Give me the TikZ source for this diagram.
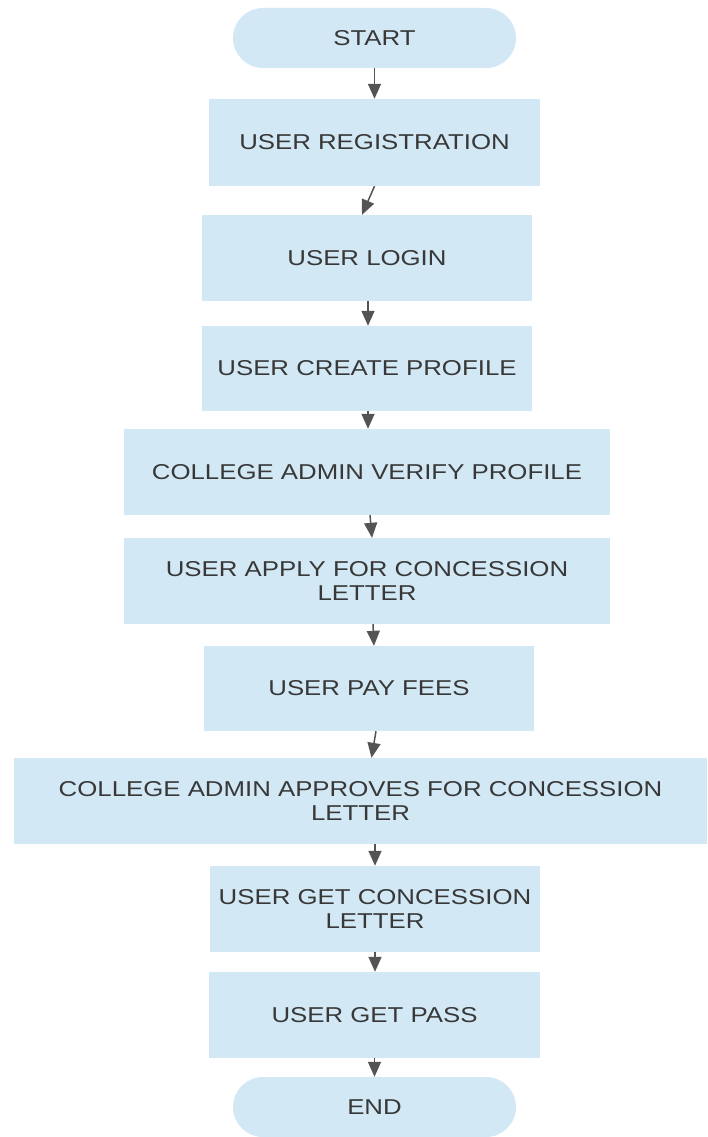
\documentclass[tikz,border=0pt]{standalone}
\usepackage{fontspec}
\setmainfont{Liberation Sans}[FakeStretch=1.2]
\usetikzlibrary{arrows.meta}
\definecolor{boxfill}{HTML}{D2E8F5}
\definecolor{txt}{HTML}{383838}
\definecolor{arr}{HTML}{545454}
\tikzset{
  stepbox/.style={rectangle, fill=boxfill, draw=none, text=txt, align=center,
    inner sep=0pt, font=\fontsize{21.5}{24}\selectfont},
  term/.style={stepbox, rounded corners=30pt},
  flow/.style={draw=arr, line width=1.5pt, -{Triangle[width=13pt,length=15pt]}, arr},
}
\begin{document}
\begin{tikzpicture}[x=1pt,y=-1pt]
\useasboundingbox (0,0) rectangle (707,1137);

\node[term, minimum width=283pt, minimum height=60pt] (start) at (374.5,38) {START};
\node[stepbox, minimum width=331pt, minimum height=87pt] (reg) at (374.5,142.5) {USER REGISTRATION};
\node[stepbox, minimum width=330pt, minimum height=86pt] (login) at (367,258) {USER LOGIN};
\node[stepbox, minimum width=330pt, minimum height=85pt] (create) at (367,368.5) {USER CREATE PROFILE};
\node[stepbox, minimum width=486pt, minimum height=86pt] (verify) at (367,472) {COLLEGE ADMIN VERIFY PROFILE};
\node[stepbox, minimum width=486pt, minimum height=86pt] (apply) at (367,581) {USER APPLY FOR CONCESSION\\LETTER};
\node[stepbox, minimum width=330pt, minimum height=85pt] (pay) at (369,688.5) {USER PAY FEES};
\node[stepbox, minimum width=693pt, minimum height=86pt] (approve) at (360.5,801) {COLLEGE ADMIN APPROVES FOR CONCESSION\\LETTER};
\node[stepbox, minimum width=330pt, minimum height=86pt] (letter) at (375,909) {USER GET CONCESSION\\LETTER};
\node[stepbox, minimum width=331pt, minimum height=86pt] (pass) at (374.5,1015) {USER GET PASS};
\node[term, minimum width=283pt, minimum height=60pt] (end) at (374.5,1107) {END};

% connectors between consecutive steps
\draw[flow] (start.south) -- (reg.north);
\draw[flow] ([xshift=0pt]reg.south) -- ([xshift=-5pt]login.north);
\draw[flow] ([xshift=1pt]login.south) -- ([xshift=1pt]create.north);
\draw[flow] ([xshift=1pt]create.south) -- ([xshift=1pt]verify.north);
\draw[flow] ([xshift=3pt]verify.south) -- ([xshift=5pt]apply.north);
\draw[flow] ([xshift=6pt]apply.south) -- ([xshift=5pt]pay.north);
\draw[flow] ([xshift=7pt]pay.south) -- ([xshift=11pt]approve.north);
\draw[flow] ([xshift=14.5pt]approve.south) -- (letter.north);
\draw[flow] (letter.south) -- ([xshift=0.5pt]pass.north);
\draw[flow] (pass.south) -- (end.north);
\end{tikzpicture}
\end{document}
